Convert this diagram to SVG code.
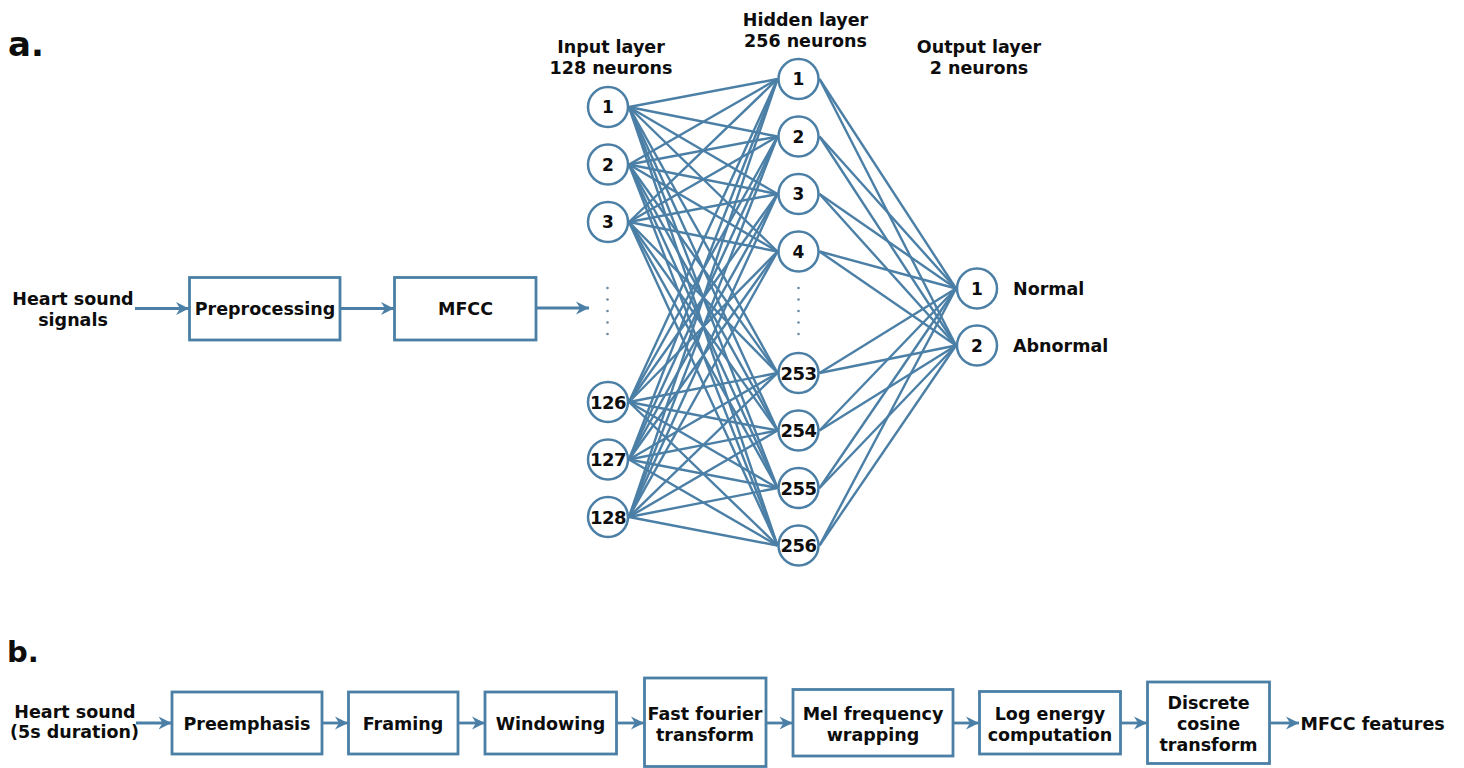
<svg xmlns="http://www.w3.org/2000/svg" width="1464" height="768" viewBox="0 0 1464 768">
<style>
text{font-family:"DejaVu Sans","Verdana",sans-serif;font-weight:bold;fill:#0d0d0d;font-size:17.5px}
.c{text-anchor:middle}
.box{fill:#fff;stroke:#4b7fa6;stroke-width:2.8}
.nd{fill:#fff;stroke:#4b7fa6;stroke-width:2.5}
.num{text-anchor:middle;font-size:17px}
.num3{text-anchor:middle;font-size:18px;letter-spacing:-0.6px}
.w{stroke:#4b7fa6;stroke-width:2.4;fill:none}
.ar{stroke:#4b7fa6;stroke-width:2.8;fill:none;marker-end:url(#ah)}
.dot{fill:#6a8aa3}
</style>
<defs>
<marker id="ah" markerUnits="userSpaceOnUse" markerWidth="16" markerHeight="16" refX="13" refY="7" orient="auto">
<path d="M0,0.5 L13,7 L0,13.5 L4,7 z" fill="#4b7fa6"/>
</marker>
</defs>
<rect width="1464" height="768" fill="#fff"/>

<text x="8" y="56" style="font-size:34px">a.</text>
<text x="7" y="662" style="font-size:29px">b.</text>

<!-- connectors -->
<g id="connectors">
<g class="w">
<line x1="629" y1="107" x2="777.5" y2="79"/><line x1="629" y1="107" x2="777.5" y2="136.5"/><line x1="629" y1="107" x2="777.5" y2="194"/><line x1="629" y1="107" x2="777.5" y2="251.5"/><line x1="629" y1="107" x2="777.5" y2="373"/><line x1="629" y1="107" x2="777.5" y2="430.5"/><line x1="629" y1="107" x2="777.5" y2="488"/><line x1="629" y1="107" x2="777.5" y2="545.5"/>
<line x1="629" y1="164.5" x2="777.5" y2="79"/><line x1="629" y1="164.5" x2="777.5" y2="136.5"/><line x1="629" y1="164.5" x2="777.5" y2="194"/><line x1="629" y1="164.5" x2="777.5" y2="251.5"/><line x1="629" y1="164.5" x2="777.5" y2="373"/><line x1="629" y1="164.5" x2="777.5" y2="430.5"/><line x1="629" y1="164.5" x2="777.5" y2="488"/><line x1="629" y1="164.5" x2="777.5" y2="545.5"/>
<line x1="629" y1="222" x2="777.5" y2="79"/><line x1="629" y1="222" x2="777.5" y2="136.5"/><line x1="629" y1="222" x2="777.5" y2="194"/><line x1="629" y1="222" x2="777.5" y2="251.5"/><line x1="629" y1="222" x2="777.5" y2="373"/><line x1="629" y1="222" x2="777.5" y2="430.5"/><line x1="629" y1="222" x2="777.5" y2="488"/><line x1="629" y1="222" x2="777.5" y2="545.5"/>
<line x1="629" y1="402" x2="777.5" y2="79"/><line x1="629" y1="402" x2="777.5" y2="136.5"/><line x1="629" y1="402" x2="777.5" y2="194"/><line x1="629" y1="402" x2="777.5" y2="251.5"/><line x1="629" y1="402" x2="777.5" y2="373"/><line x1="629" y1="402" x2="777.5" y2="430.5"/><line x1="629" y1="402" x2="777.5" y2="488"/><line x1="629" y1="402" x2="777.5" y2="545.5"/>
<line x1="629" y1="459.5" x2="777.5" y2="79"/><line x1="629" y1="459.5" x2="777.5" y2="136.5"/><line x1="629" y1="459.5" x2="777.5" y2="194"/><line x1="629" y1="459.5" x2="777.5" y2="251.5"/><line x1="629" y1="459.5" x2="777.5" y2="373"/><line x1="629" y1="459.5" x2="777.5" y2="430.5"/><line x1="629" y1="459.5" x2="777.5" y2="488"/><line x1="629" y1="459.5" x2="777.5" y2="545.5"/>
<line x1="629" y1="517" x2="777.5" y2="79"/><line x1="629" y1="517" x2="777.5" y2="136.5"/><line x1="629" y1="517" x2="777.5" y2="194"/><line x1="629" y1="517" x2="777.5" y2="251.5"/><line x1="629" y1="517" x2="777.5" y2="373"/><line x1="629" y1="517" x2="777.5" y2="430.5"/><line x1="629" y1="517" x2="777.5" y2="488"/><line x1="629" y1="517" x2="777.5" y2="545.5"/>
<line x1="819.5" y1="79" x2="956" y2="288.5"/><line x1="819.5" y1="79" x2="956" y2="345.5"/>
<line x1="819.5" y1="136.5" x2="956" y2="288.5"/><line x1="819.5" y1="136.5" x2="956" y2="345.5"/>
<line x1="819.5" y1="194" x2="956" y2="288.5"/><line x1="819.5" y1="194" x2="956" y2="345.5"/>
<line x1="819.5" y1="251.5" x2="956" y2="288.5"/><line x1="819.5" y1="251.5" x2="956" y2="345.5"/>
<line x1="819.5" y1="373" x2="956" y2="288.5"/><line x1="819.5" y1="373" x2="956" y2="345.5"/>
<line x1="819.5" y1="430.5" x2="956" y2="288.5"/><line x1="819.5" y1="430.5" x2="956" y2="345.5"/>
<line x1="819.5" y1="488" x2="956" y2="288.5"/><line x1="819.5" y1="488" x2="956" y2="345.5"/>
<line x1="819.5" y1="545.5" x2="956" y2="288.5"/><line x1="819.5" y1="545.5" x2="956" y2="345.5"/>
</g>
<line class="ar" x1="135" y1="308.5" x2="189" y2="308.5"/>
<line class="ar" x1="340" y1="308.5" x2="394" y2="308.5"/>
<line class="ar" x1="536" y1="308" x2="589" y2="308"/>
<line class="ar" x1="136" y1="723" x2="171.5" y2="723"/>
<line class="ar" x1="322" y1="723" x2="348" y2="723"/>
<line class="ar" x1="458" y1="723" x2="485" y2="723"/>
<line class="ar" x1="617" y1="723" x2="644" y2="723"/>
<line class="ar" x1="766" y1="723" x2="792.5" y2="723"/>
<line class="ar" x1="953" y1="723" x2="979" y2="723"/>
<line class="ar" x1="1121" y1="723" x2="1147" y2="723"/>
<line class="ar" x1="1269.5" y1="723" x2="1299" y2="723"/>
</g>

<!-- dots -->
<g id="ellipsis-input">
<circle class="dot" cx="607.5" cy="288" r="1.3"/><circle class="dot" cx="607.5" cy="299.5" r="1.3"/><circle class="dot" cx="607.5" cy="311" r="1.3"/><circle class="dot" cx="607.5" cy="322.5" r="1.3"/><circle class="dot" cx="607.5" cy="334" r="1.3"/>
</g>
<g id="ellipsis-hidden">
<circle class="dot" cx="798.5" cy="288" r="1.3"/><circle class="dot" cx="798.5" cy="299.5" r="1.3"/><circle class="dot" cx="798.5" cy="311" r="1.3"/><circle class="dot" cx="798.5" cy="322.5" r="1.3"/><circle class="dot" cx="798.5" cy="334" r="1.3"/>
</g>

<!-- part a -->
<g id="heart-sound-signals"><text class="c" x="73" y="305">Heart sound</text><text class="c" x="73" y="326">signals</text></g>
<g id="preprocessing"><rect class="box" x="189.5" y="277.5" width="150.5" height="62.5"/><text class="c" x="265" y="315">Preprocessing</text></g>
<g id="mfcc"><rect class="box" x="394.5" y="277.5" width="141.5" height="62.5"/><text class="c" x="465.5" y="315">MFCC</text></g>

<g id="input-label"><text class="c" x="611" y="53">Input layer</text><text class="c" x="611" y="74">128 neurons</text></g>
<g id="hidden-label"><text class="c" x="805.5" y="26">Hidden layer</text><text class="c" x="805.5" y="47">256 neurons</text></g>
<g id="output-label"><text class="c" x="979" y="53">Output layer</text><text class="c" x="979" y="74">2 neurons</text></g>

<g id="in-1"><circle class="nd" cx="608" cy="107" r="20"/><text class="num" x="608" y="113">1</text></g>
<g id="in-2"><circle class="nd" cx="608" cy="164.5" r="20"/><text class="num" x="608" y="170.5">2</text></g>
<g id="in-3"><circle class="nd" cx="608" cy="222" r="20"/><text class="num" x="608" y="228">3</text></g>
<g id="in-126"><circle class="nd" cx="608" cy="402" r="20"/><text class="num3" x="608" y="408.5">126</text></g>
<g id="in-127"><circle class="nd" cx="608" cy="459.5" r="20"/><text class="num3" x="608" y="466">127</text></g>
<g id="in-128"><circle class="nd" cx="608" cy="517" r="20"/><text class="num3" x="608" y="523.5">128</text></g>

<g id="hid-1"><circle class="nd" cx="798.5" cy="79" r="20"/><text class="num" x="798.5" y="85">1</text></g>
<g id="hid-2"><circle class="nd" cx="798.5" cy="136.5" r="20"/><text class="num" x="798.5" y="142.5">2</text></g>
<g id="hid-3"><circle class="nd" cx="798.5" cy="194" r="20"/><text class="num" x="798.5" y="200">3</text></g>
<g id="hid-4"><circle class="nd" cx="798.5" cy="251.5" r="20"/><text class="num" x="798.5" y="257.5">4</text></g>
<g id="hid-253"><circle class="nd" cx="798.5" cy="373" r="20"/><text class="num3" x="798.5" y="379.5">253</text></g>
<g id="hid-254"><circle class="nd" cx="798.5" cy="430.5" r="20"/><text class="num3" x="798.5" y="437">254</text></g>
<g id="hid-255"><circle class="nd" cx="798.5" cy="488" r="20"/><text class="num3" x="798.5" y="494.5">255</text></g>
<g id="hid-256"><circle class="nd" cx="798.5" cy="545.5" r="20"/><text class="num3" x="798.5" y="552">256</text></g>

<g id="out-1"><circle class="nd" cx="977" cy="288.5" r="20"/><text class="num" x="977" y="294.5">1</text><text x="1013" y="294.5">Normal</text></g>
<g id="out-2"><circle class="nd" cx="977" cy="345.5" r="20"/><text class="num" x="977" y="351.5">2</text><text x="1013" y="352">Abnormal</text></g>

<!-- part b -->
<g id="heart-sound-5s"><text class="c" x="75" y="718">Heart sound</text><text class="c" x="74.5" y="738">(5s duration)</text></g>
<g id="preemphasis"><rect class="box" x="172" y="692" width="150" height="62"/><text class="c" x="247" y="729.5">Preemphasis</text></g>
<g id="framing"><rect class="box" x="348.5" y="692" width="109.5" height="62"/><text class="c" x="403" y="729.5">Framing</text></g>
<g id="windowing"><rect class="box" x="485" y="692" width="131.5" height="62"/><text class="c" x="550.5" y="729.5">Windowing</text></g>
<g id="fft"><rect class="box" x="644.5" y="678" width="121.5" height="88.5"/><text class="c" x="705" y="720">Fast fourier</text><text class="c" x="705" y="741">transform</text></g>
<g id="mel"><rect class="box" x="793" y="689.5" width="160" height="66.5"/><text class="c" x="873" y="720">Mel frequency</text><text class="c" x="873" y="741">wrapping</text></g>
<g id="log-energy"><rect class="box" x="979.5" y="691.5" width="141" height="62.5"/><text class="c" x="1050" y="720">Log energy</text><text class="c" x="1050" y="741">computation</text></g>
<g id="dct"><rect class="box" x="1147.5" y="682" width="122" height="81.5"/><text class="c" x="1208.5" y="709">Discrete</text><text class="c" x="1208.5" y="730">cosine</text><text class="c" x="1208.5" y="751">transform</text></g>
<g id="mfcc-features"><text x="1300.5" y="730">MFCC features</text></g>
</svg>
